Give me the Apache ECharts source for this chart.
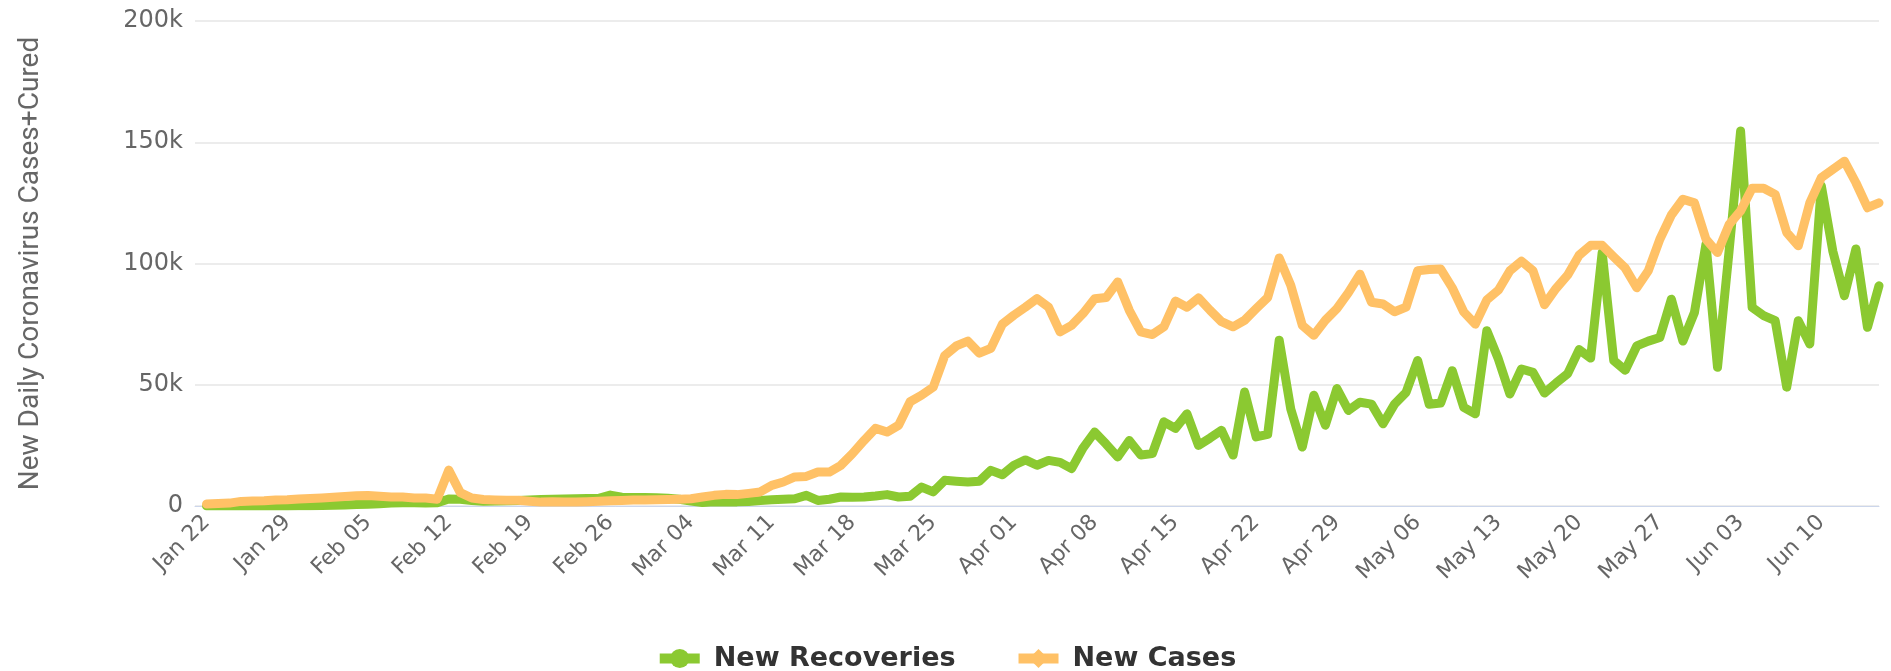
<!DOCTYPE html>
<html>
<head>
<meta charset="utf-8">
<title>New Daily Coronavirus Cases+Cured</title>
<script src="https://cdn.jsdelivr.net/npm/echarts@6/dist/echarts.min.js"></script>
<style>
  html, body { margin: 0; padding: 0; background: #fff; }
  #chart { width: 1891px; height: 671px; }
</style>
</head>
<body>
<div id="chart"></div>
<script>
// daily values in thousands, Jan 22 .. Jun 15 2020
const recovered = [
  0.03, 0.01, 0.01, 0.01, 0.02, 0.02, 0.05, 0.03, 0.06, 0.1,
  0.2, 0.3, 0.4, 0.6, 0.7, 0.9, 1.2, 1.3, 1.3, 1.2,
  1.3, 2.9, 2.8, 2.3, 2.0, 2.1, 2.2, 2.3, 2.5, 2.7,
  2.8, 2.9, 3.0, 3.1, 3.2, 4.5, 3.6, 3.5, 3.5, 3.4,
  3.2, 2.8, 2.0, 1.4, 1.7, 1.7, 1.7, 1.9, 2.3, 2.6,
  2.8, 3.0, 4.4, 2.3, 2.8, 3.7, 3.6, 3.7, 4.1, 4.7,
  3.7, 4.0, 7.8, 5.8, 10.6, 10.2, 9.9, 10.2, 14.7, 12.9,
  16.8, 19.0, 16.8, 18.8, 18.0, 15.4, 24.0, 30.5, 25.5, 20.2,
  27.0, 21.0, 21.6, 34.7, 32.0, 38.0, 25.0, 28.0, 31.2, 21.0,
  47.0, 28.5, 29.5, 68.4, 40.0, 24.3, 45.7, 33.3, 48.4, 39.4,
  42.8, 42.0, 33.9, 42.0, 46.9, 60.0, 42.0, 42.5, 55.8, 40.7,
  38.0, 72.3, 60.6, 46.2, 56.5, 55.1, 46.6, 50.7, 54.5, 64.5,
  61.0, 104.5, 60.0, 56.0, 66.0, 68.0, 69.5, 85.3, 68.0, 79.8,
  108.0, 57.2, 105.0, 154.6, 81.9, 78.5, 76.4, 49.0, 76.4, 66.8,
  132.0, 105.0, 86.7, 106.0, 73.7, 90.8
];

const cases = [
  0.8, 1.0, 1.2, 1.9, 2.1, 2.2, 2.5, 2.6, 2.9, 3.1,
  3.3, 3.6, 3.9, 4.2, 4.3, 4.0, 3.7, 3.7, 3.3, 3.3,
  2.8, 14.8, 5.5, 3.3, 2.7, 2.5, 2.4, 2.4, 2.0, 1.6,
  1.8, 1.7, 1.6, 1.8, 2.0, 2.2, 2.3, 2.5, 2.5, 2.6,
  2.7, 2.8, 3.0, 3.7, 4.4, 4.8, 4.7, 5.2, 5.8, 8.5,
  9.9, 12.0, 12.2, 14.0, 14.0, 16.8, 21.6, 27.0, 32.0, 30.5,
  33.3, 43.0, 45.7, 49.0, 62.0, 66.0, 68.0, 63.0, 65.0, 75.0,
  78.7, 82.0, 85.5, 82.0, 71.8, 74.5, 79.4, 85.5, 86.0, 92.4,
  80.7, 71.8, 70.7, 73.9, 84.5, 82.0, 85.8, 80.7, 76.0, 73.9,
  76.6, 81.4, 86.0, 102.3, 91.0, 74.5, 70.4, 76.6, 81.4, 88.0,
  95.6, 84.0, 83.3, 80.1, 82.0, 97.0, 97.5, 97.7, 90.0, 80.0,
  75.0, 85.0, 89.0, 97.0, 101.0, 97.0, 83.0, 89.7, 95.2, 103.4,
  107.5, 107.5, 102.7, 98.1, 90.0, 97.0, 110.0, 120.0, 126.5, 125.0,
  110.0, 104.5, 116.0, 121.7, 131.0, 131.0, 128.5, 112.8, 107.3, 125.0,
  135.4, 138.8, 142.2, 133.3, 123.0, 125.0
];

const monthNames = ['Jan', 'Feb', 'Mar', 'Apr', 'May', 'Jun'];
const yTicks = [0, 50, 100, 150, 200];

// axis starts one (empty) day before the first point, like the original
const days = [];
for (let i = 0; i <= cases.length; i++) {
  const d = new Date(2020, 0, 21 + i);
  days.push(monthNames[d.getMonth()] + ' ' + String(d.getDate()).padStart(2, '0'));
}

const chart = echarts.init(document.getElementById('chart'));

chart.setOption({
  animation: false,
  grid: { left: 195, right: 12, top: 21, bottom: 165 },
  legend: {
    left: 'center',
    top: 640,
    itemWidth: 40,
    itemHeight: 24,
    itemGap: 58,
    lineStyle: { width: 10, cap: 'butt' },
    textStyle: {
      fontFamily: 'DejaVu Sans', fontSize: 27, fontWeight: 'bold', color: '#333',
      padding: [0, 0, 0, 9]
    },
    data: ['New Recoveries', 'New Cases']
  },
  xAxis: {
    type: 'category',
    data: days,
    boundaryGap: false,
    axisLine: { lineStyle: { color: '#ccd6eb', width: 1 } },
    axisTick: { show: false },
    axisLabel: {
      interval: (idx) => idx > 0 && (idx - 1) % 7 === 0,
      rotate: 45,
      margin: 13,
      color: '#666',
      fontFamily: 'DejaVu Sans',
      fontSize: 22
    }
  },
  yAxis: {
    type: 'value',
    min: yTicks[0],
    max: yTicks[yTicks.length - 1],
    interval: 50,
    name: 'New Daily Coronavirus Cases+Cured',
    nameLocation: 'middle',
    nameGap: 150,
    nameTextStyle: { color: '#666', fontFamily: 'Roboto', fontSize: 28 },
    axisLine: { show: false },
    axisTick: { show: false },
    splitLine: { lineStyle: { color: '#e6e6e6', width: 1.5 } },
    axisLabel: {
      margin: 12,
      color: '#666',
      fontFamily: 'DejaVu Sans',
      fontSize: 24,
      formatter: (v) => (v === 0 ? '0' : v + 'k')
    }
  },
  series: [
    {
      name: 'New Recoveries',
      type: 'line',
      data: [null].concat(recovered),
      symbol: 'circle',
      showSymbol: false,
      itemStyle: { color: '#8bc931' },
      lineStyle: { color: '#8bc931', width: 9, cap: 'round', join: 'round' }
    },
    {
      name: 'New Cases',
      type: 'line',
      data: [null].concat(cases),
      symbol: 'diamond',
      showSymbol: false,
      itemStyle: { color: '#ffc166' },
      lineStyle: { color: '#ffc166', width: 9, cap: 'round', join: 'round' }
    }
  ]
});
</script>
</body>
</html>
